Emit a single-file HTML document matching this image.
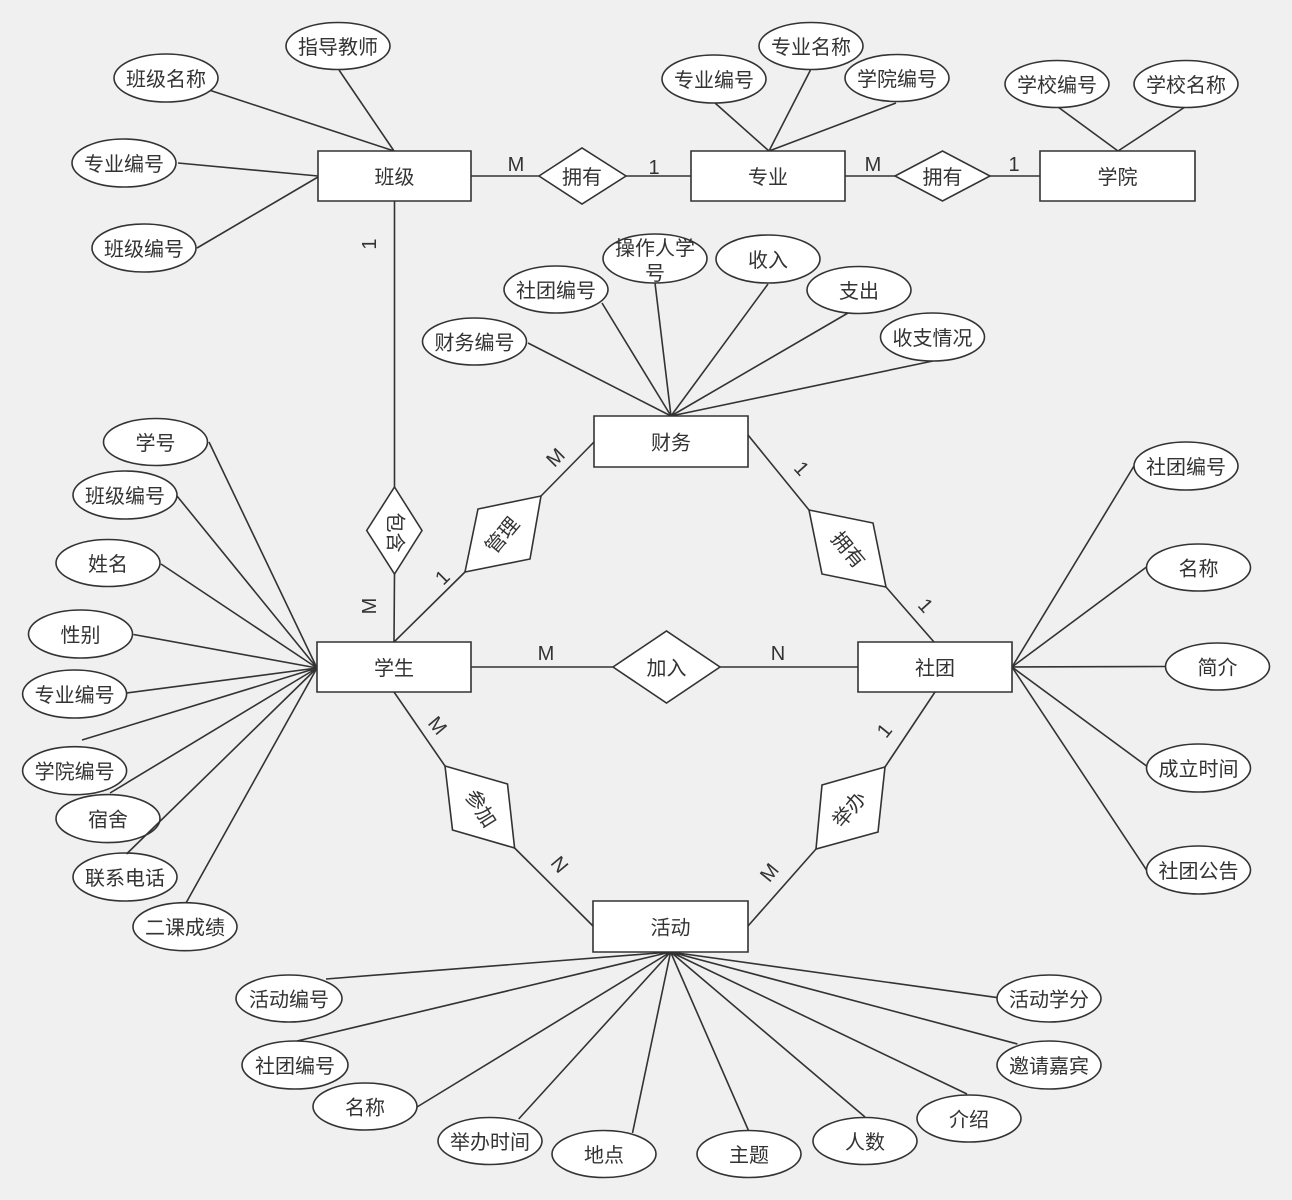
<!DOCTYPE html>
<html>
<head>
<meta charset="utf-8">
<style>
html,body{margin:0;padding:0;background:#f0f0f0;}
svg{display:block;}
text{font-family:"Liberation Sans","Noto Sans CJK SC",sans-serif;font-size:20px;fill:#333;}
.s{stroke:#333;stroke-width:1.6;}
</style>
</head>
<body>
<svg width="1292" height="1200" viewBox="0 0 1292 1200" xmlns="http://www.w3.org/2000/svg">
<rect width="1292" height="1200" fill="#f0f0f0"/>
<path class="s" fill="none" d="
M471 176H539 M626 176H691 M845 176H895 M990 176H1040
M339 70L394 151 M209 90L394 151 M178 163L318 176 M197 248L318 177
M715 103L769 151 M810.5 70L769 151 M896 103L769 151
M1058 107L1118 151 M1185 107L1118 151
M528 343L671 416 M602 303L671 416 M655 283L671 416 M768 284L671 416 M848 313L671 416 M933 361L671 416
M394.5 201V487 M394.5 574L394 642
M394 642L465 572 M541 496L594 442
M748 435L809 510 M886 587L934 642
M471 667H613 M720 667H858
M394 692L445 766 M514.6 848L593 926
M935 692L885 767 M816 849L748 926
M209 442L317 668 M177 496L317 668 M161 564L317 668 M133.5 634.5L317 668 M126.5 693L317 668 M82 740L317 668 M110 793L317 668 M186 903L317 668
M1012 667L1134 466 M1012 667L1146.5 567 M1012 667L1165 666.5 M1012 667L1146.5 766 M1012 667L1146.5 870
M670.6 952L326 979 M670.6 952L297 1041 M670.6 952L417 1107 M670.6 952L518.7 1119 M670.6 952L632.5 1133 M670.6 952L748.7 1131 M670.6 952L865 1117 M670.6 952L967 1094 M670.6 952L1017.5 1044 M670.6 952L998 997.7"/>
<path class="s" fill="#fff" d="
M318 151h153v50h-153Z M691 151h154v50h-154Z M1040 151h155v50h-155Z M594 416h154v51h-154Z
M317 642h154v50h-154Z M858 642h154v50h-154Z M593 901h155v51h-155Z
M539 176L582 148L626 176L582 204Z M895 176L942.5 151L990 176L942.5 201Z
M394.5 487L422 530.5L394.5 574L366.7 530.5Z M541 496L478 509L465 572L530 559Z
M809 510L873 523L886 587L822 574Z M613 667L666.5 631L720 667L666.5 703Z
M445 766L507.5 784L514.6 848L452.5 830Z M885 767L822 785L816 849L878 832Z"/>
<g class="s" fill="#fff">
<ellipse cx="338" cy="46" rx="52" ry="23.5"/><ellipse cx="166" cy="78" rx="52" ry="24"/>
<ellipse cx="124" cy="163" rx="52" ry="24"/><ellipse cx="144" cy="248" rx="52" ry="24"/>
<ellipse cx="714" cy="79" rx="52" ry="24"/><ellipse cx="811" cy="46" rx="52" ry="23.5"/>
<ellipse cx="897" cy="78" rx="52" ry="23.5"/><ellipse cx="1057" cy="84" rx="52" ry="23.5"/>
<ellipse cx="1186" cy="84" rx="52" ry="23.5"/><ellipse cx="474.5" cy="341.5" rx="52" ry="23.5"/>
<ellipse cx="556" cy="289.5" rx="52" ry="23.5"/><ellipse cx="655" cy="258.5" rx="52" ry="24.5"/>
<ellipse cx="768" cy="259" rx="52" ry="24"/><ellipse cx="859" cy="290" rx="52" ry="23.5"/>
<ellipse cx="932.5" cy="337" rx="52" ry="24"/><ellipse cx="155.5" cy="442" rx="52" ry="23.5"/>
<ellipse cx="125" cy="495" rx="52" ry="24"/><ellipse cx="108" cy="563" rx="52" ry="23.5"/>
<ellipse cx="80.5" cy="634" rx="52" ry="24"/><ellipse cx="74.6" cy="694" rx="52" ry="24"/>
<ellipse cx="74.6" cy="770.7" rx="52" ry="24"/><ellipse cx="108" cy="818.6" rx="52" ry="24"/>
<ellipse cx="125" cy="877" rx="52" ry="24"/><ellipse cx="185" cy="926.7" rx="52" ry="24"/>
<ellipse cx="1186" cy="466" rx="52" ry="24"/><ellipse cx="1198.5" cy="567.5" rx="52" ry="23.5"/>
<ellipse cx="1217.5" cy="666.5" rx="52" ry="23.5"/><ellipse cx="1198.5" cy="768" rx="52" ry="24"/>
<ellipse cx="1198.5" cy="870" rx="52" ry="24"/><ellipse cx="289" cy="998.5" rx="53" ry="23.5"/>
<ellipse cx="295" cy="1065" rx="53" ry="24"/><ellipse cx="365" cy="1106.5" rx="52" ry="23.5"/>
<ellipse cx="490" cy="1141" rx="52" ry="23.5"/><ellipse cx="604" cy="1154" rx="52" ry="23.5"/>
<ellipse cx="749" cy="1154" rx="52" ry="23.5"/><ellipse cx="865" cy="1141" rx="52" ry="23.5"/>
<ellipse cx="969" cy="1118.5" rx="52" ry="23.5"/><ellipse cx="1049" cy="1065" rx="52" ry="24"/>
<ellipse cx="1049" cy="998.5" rx="52" ry="23.5"/>
</g>
<path class="s" fill="none" d="M126.5 854L317 668"/>
<g text-anchor="middle" dominant-baseline="central" transform="translate(0,2)">
<text x="394.5" y="176">班级</text><text x="768" y="176">专业</text><text x="1117.5" y="176">学院</text>
<text x="671" y="441.5">财务</text><text x="394" y="667">学生</text><text x="935" y="667">社团</text>
<text x="670.5" y="926.5">活动</text><text x="582" y="176">拥有</text><text x="942.5" y="176">拥有</text>
<text x="666.5" y="667">加入</text>
<text transform="translate(394.5,530.5) rotate(90)">包含</text>
<text transform="translate(503,534) rotate(-50)">管理</text>
<text transform="translate(847.5,548.5) rotate(50)">拥有</text>
<text transform="translate(480,807) rotate(58)">参加</text>
<text transform="translate(850,808) rotate(-50)">举办</text>
<text x="516" y="163">M</text><text x="654" y="166">1</text><text x="873" y="163">M</text><text x="1014" y="163">1</text>
<text x="546" y="652">M</text><text x="778" y="652">N</text>
<text transform="translate(370,242) rotate(-90)">1</text>
<text transform="translate(370,604) rotate(-90)">M</text>
<text transform="translate(443,576) rotate(-45)">1</text>
<text transform="translate(556,456) rotate(-45)">M</text>
<text transform="translate(801,467) rotate(48)">1</text>
<text transform="translate(925,604) rotate(48)">1</text>
<text transform="translate(437,724) rotate(50)">M</text>
<text transform="translate(559,863) rotate(50)">N</text>
<text transform="translate(885,729) rotate(-51)">1</text>
<text transform="translate(770,871) rotate(-51)">M</text>
<text x="338" y="46">指导教师</text><text x="166" y="78">班级名称</text>
<text x="124" y="163">专业编号</text><text x="144" y="248">班级编号</text>
<text x="714" y="79">专业编号</text><text x="811" y="46">专业名称</text><text x="897" y="78">学院编号</text>
<text x="1057" y="84">学校编号</text><text x="1186" y="84">学校名称</text>
<text x="474.5" y="341.5">财务编号</text><text x="556" y="289.5">社团编号</text>
<text x="655" y="247">操作人学</text><text x="655" y="272">号</text>
<text x="768" y="259">收入</text><text x="859" y="290">支出</text><text x="932.5" y="337">收支情况</text>
<text x="155.5" y="442">学号</text><text x="125" y="495">班级编号</text><text x="108" y="563">姓名</text>
<text x="80.5" y="634">性别</text><text x="74.6" y="694">专业编号</text><text x="74.6" y="770.7">学院编号</text>
<text x="108" y="818.6">宿舍</text><text x="125" y="877">联系电话</text><text x="185" y="926.7">二课成绩</text>
<text x="1186" y="466">社团编号</text><text x="1198.5" y="567.5">名称</text><text x="1217.5" y="666.5">简介</text>
<text x="1198.5" y="768">成立时间</text><text x="1198.5" y="870">社团公告</text>
<text x="289" y="998.5">活动编号</text><text x="295" y="1065">社团编号</text><text x="365" y="1106.5">名称</text>
<text x="490" y="1141">举办时间</text><text x="604" y="1154">地点</text><text x="749" y="1154">主题</text>
<text x="865" y="1141">人数</text><text x="969" y="1118.5">介绍</text>
<text x="1049" y="1065">邀请嘉宾</text><text x="1049" y="998.5">活动学分</text>
</g>
</svg>
</body>
</html>
